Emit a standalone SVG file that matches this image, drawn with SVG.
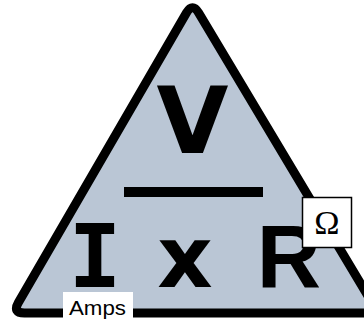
<svg xmlns="http://www.w3.org/2000/svg" width="364" height="324" viewBox="0 0 364 324">
<style>
.big{font-family:"DejaVu Sans",sans-serif;font-weight:bold;fill:#000}
</style>
<rect width="364" height="324" fill="#fff"/>
<g id="triangle">
<path d="M186.5 12.8 Q192.5 2.5 198.6 12.8 L372 302.6 Q378 313 366 313 L24.4 313 Q12.4 313 18.4 302.6 Z" fill="#bac6d5" stroke="#000" stroke-width="9" stroke-linejoin="round"/>
</g>
<g id="voltage">
<text class="big" x="192.5" y="153" font-size="93" text-anchor="middle">V</text>
<rect x="124" y="187" width="139" height="10" fill="#000"/>
</g>
<g id="current">
<text x="95" y="287" font-family="DejaVu Sans Mono,monospace" font-weight="bold" font-size="88" text-anchor="middle">I</text>
</g>
<g id="times">
<text class="big" x="185" y="287" font-size="86" text-anchor="middle">x</text>
</g>
<g id="resistance">
<text x="289" y="287" font-family="Liberation Sans,Arial,sans-serif" font-weight="bold" font-size="89" text-anchor="middle">R</text>
</g>
<g id="ohm">
<rect x="302.5" y="197.5" width="49" height="50" fill="#fff" stroke="#000" stroke-width="1.5"/>
<text x="327" y="234" font-family="Liberation Serif,serif" font-size="34" text-anchor="middle">Ω</text>
</g>
<g id="amps">
<rect x="63" y="292" width="70" height="32" fill="#fff"/>
<text x="69" y="315" font-family="Liberation Sans,Arial,sans-serif" font-size="21" textLength="57" lengthAdjust="spacingAndGlyphs">Amps</text>
</g>
</svg>
